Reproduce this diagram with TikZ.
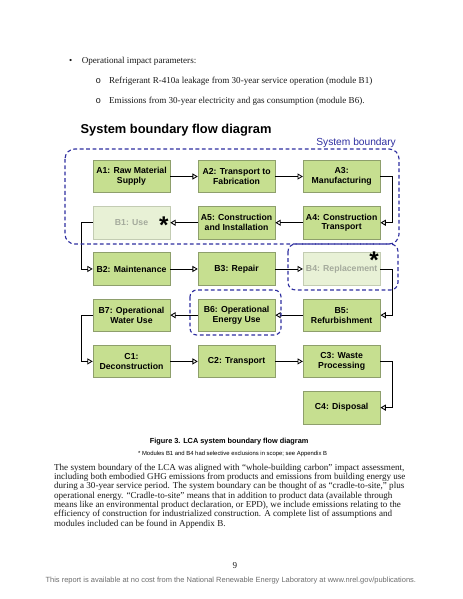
\documentclass[tikz,border=0pt]{standalone}
\usepackage{fontspec}
\setmainfont{Liberation Serif}
\setsansfont{Liberation Sans}
\setmonofont{Liberation Mono}
\usetikzlibrary{arrows.meta,positioning}

\definecolor{stagefill}{HTML}{C6DF90}
\definecolor{stageline}{HTML}{8E9F6C}
\definecolor{fadefill}{HTML}{E8F1D6}
\definecolor{fadeline}{HTML}{C3CCB3}
\definecolor{fadetext}{HTML}{A4AA9C}
\definecolor{scopeblue}{HTML}{2F2FA0}
\definecolor{footgray}{HTML}{6E6E6E}

\begin{document}
\begin{tikzpicture}[
    x=1.3218pt, y=-1.3218pt,
    node distance = 17.3pt and 36.3pt,
    stage/.style={rectangle, draw=stageline, line width=0.8pt, fill=stagefill, minimum width=101.8pt, minimum height=43pt, inner sep=1pt, align=center, font=\sffamily\bfseries\fontsize{11.5}{13}\selectfont},
    faded/.style={stage, draw=fadeline, fill=fadefill, text=fadetext},
    flow/.style={-{Triangle[open, length=7pt, width=8pt]}, line width=1.1pt, black},
    scopeline/.style={draw=scopeblue, line width=1.5pt, dash pattern=on 5pt off 3.5pt},
    star/.style={font=\sffamily\bfseries\fontsize{32}{32}\selectfont, inner sep=0pt, anchor=base},
    body/.style={font=\fontsize{12}{12.33}\selectfont, inner sep=0pt, text=black!90}
  ]
    \fill[white] (0,0) rectangle (463,599);
    \useasboundingbox (0,0) rectangle (463,599);

    % Text above the figure
    \node[body, anchor=base] (dot) at (70.7,63) {•};
    \node[body, anchor=base west] (param) at (81.7,63) {Operational impact parameters:};
    \node[body, anchor=base] (ringa) at (98.3,83) {\ttfamily o};
    \node[body, anchor=base west] (parama) at (109,83) {Refrigerant R-410a leakage from 30-year service operation (module B1)};
    \node[body, anchor=base] (ringb) at (98.3,103) {\ttfamily o};
    \node[body, anchor=base west] (paramb) at (109,103) {Emissions from 30-year electricity and gas consumption (module B6).};

    % Titles
    \node[font=\sffamily\bfseries\fontsize{17}{17}\selectfont, anchor=base west, inner sep=0pt] (title) at (80.5,133.3) {System boundary flow diagram};
    \node[font=\sffamily\fontsize{13.5}{13.5}\selectfont, text=scopeblue, anchor=base east, inner sep=0pt] (scopelabel) at (396,145.5) {System boundary};

    % Nodes
    \node[stage] (A1) at (131.5,176.5) {A1: Raw Material\\Supply};
    \node[stage, right=of A1] (A2) {A2: Transport to\\Fabrication};
    \node[stage, right=of A2] (A3) {A3:\\Manufacturing};
    \node[stage, below=of A3] (A4) {A4: Construction\\Transport};
    \node[stage, left=of A4] (A5) {A5: Construction\\and Installation};
    \node[faded, left=of A5] (B1) {B1: Use};
    \node[stage, below=of B1] (B2) {B2: Maintenance};
    \node[stage, right=of B2] (B3) {B3: Repair};
    \node[faded, right=of B3] (B4) {B4: Replacement};
    \node[stage, below=of B4] (B5) {B5:\\Refurbishment};
    \node[stage, left=of B5] (B6) {B6: Operational\\Energy Use};
    \node[stage, left=of B6] (B7) {B7: Operational\\Water Use};
    \node[stage, below=of B7] (C1) {C1:\\Deconstruction};
    \node[stage, right=of C1] (C2) {C2: Transport};
    \node[stage, right=of C2] (C3) {C3: Waste\\Processing};
    \node[stage, below=of C3] (C4) {C4: Disposal};

    % Exclusion marks
    \node[star] (B1star) at ([shift={(-6.5,10.8)}]B1.east) {*};
    \node[star] (B4star) at ([shift={(-6.5,16.5)}]B4.north east) {*};

    % Arrows
    \draw[flow] (A1) -- (A2);
    \draw[flow] (A2) -- (A3);
    \draw[flow] (A3.east) -- ++(12,0) |- (A4.east);
    \draw[flow] (A4) -- (A5);
    \draw[flow] (A5) -- (B1);
    \draw[flow] (B1.west) -- ++(-11,0) |- (B2.west);
    \draw[flow] (B2) -- (B3);
    \draw[flow] (B3) -- (B4);
    \draw[flow] (B4.east) -- ++(12,0) |- (B5.east);
    \draw[flow] (B5) -- (B6);
    \draw[flow] (B6) -- (B7);
    \draw[flow] (B7.west) -- ++(-11,0) |- (C1.west);
    \draw[flow] (C1) -- (C2);
    \draw[flow] (C2) -- (C3);
    \draw[flow] (C3.east) -- ++(12,0) |- (C4.east);

    % Boundaries
    \draw[scopeline, rounded corners=13pt] (65,149) rectangle (399,244);
    \draw[scopeline, rounded corners=10pt] (288,244) rectangle (398,290);
    \draw[scopeline, rounded corners=9pt] (190,290) rectangle (281,335);

    % Caption and text below
    \node[font=\sffamily\bfseries\fontsize{9.7}{11}\selectfont, anchor=base, inner sep=0pt] (caption) at (229.2,443) {Figure 3. LCA system boundary flow diagram};
    \node[font=\sffamily\fontsize{7.8}{9}\selectfont, anchor=base west, inner sep=0pt] (note) at (138,455) {* Modules B1 and B4 had selective exclusions in scope; see Appendix B};
    \node[body, anchor=north west, align=left] (summary) at (54,463.5) {The system boundary of the LCA was aligned with “whole-building carbon” impact assessment,\\
      including both embodied GHG emissions from products and emissions from building energy use\\
      during a 30-year service period. The system boundary can be thought of as “cradle-to-site,” plus\\
      operational energy. “Cradle-to-site” means that in addition to product data (available through\\
      means like an environmental product declaration, or EPD), we include emissions relating to the\\
      efficiency of construction for industrialized construction. A complete list of assumptions and\\
      modules included can be found in Appendix B.};
    \node[body, anchor=base] (pagenum) at (235,568) {9};
    \node[font=\sffamily\fontsize{9.9}{12}\selectfont, text=footgray, anchor=base, inner sep=0pt] (footer) at (230.8,582) {This report is available at no cost from the National Renewable Energy Laboratory at www.nrel.gov/publications.};
\end{tikzpicture}
\end{document}
